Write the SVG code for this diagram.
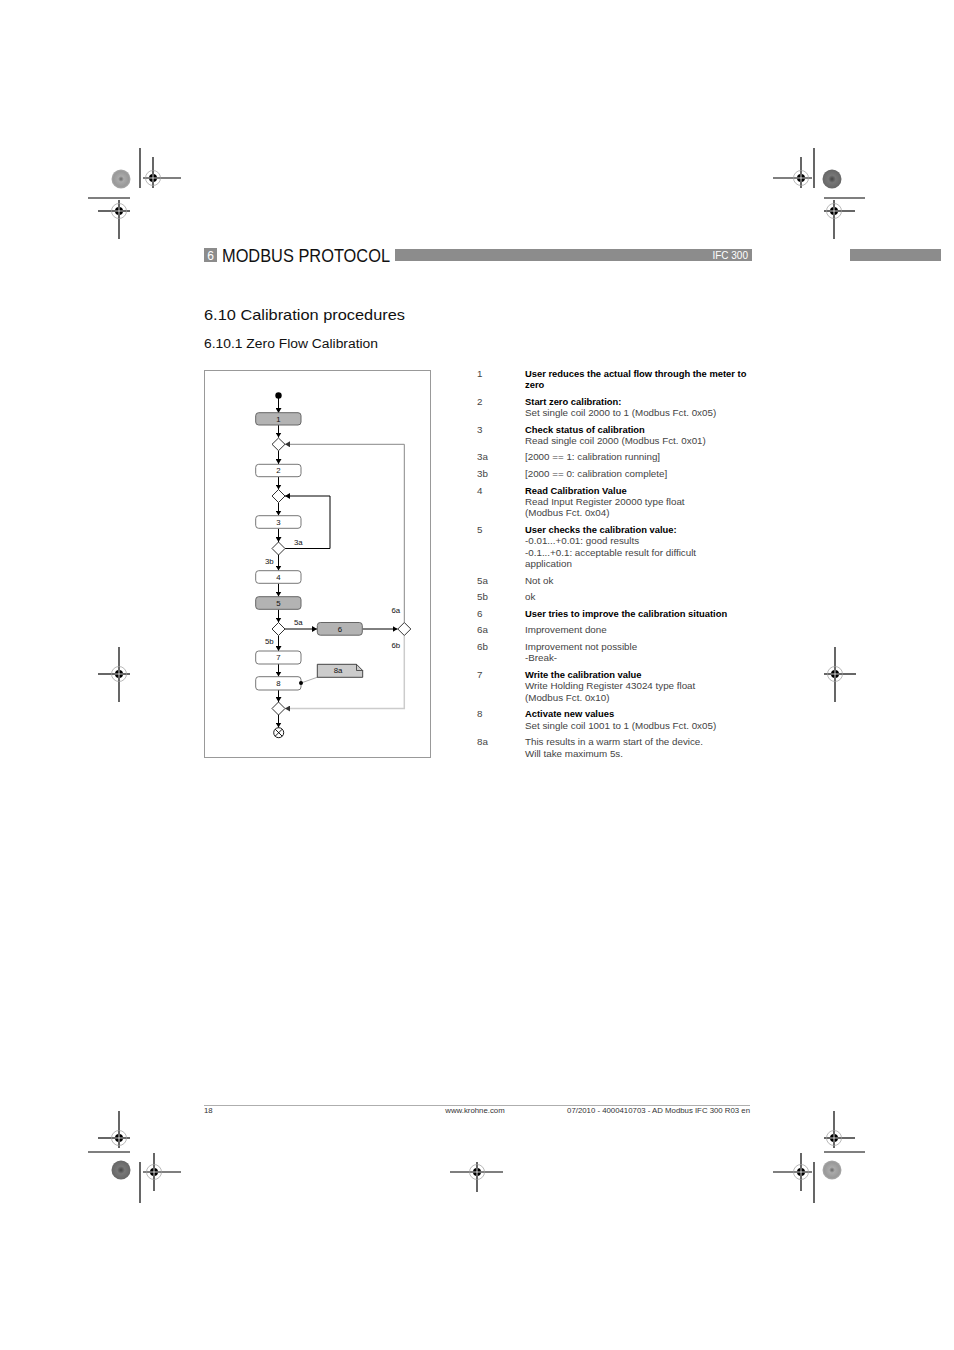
<svg xmlns="http://www.w3.org/2000/svg" width="954" height="1350" viewBox="0 0 954 1350">
<style>
.rl{stroke:#000;stroke-width:1.2;fill:none}
.bx{fill:#fff;stroke:#777;stroke-width:1}
.bg{fill:#b3b3b3;stroke:#666;stroke-width:1}
.dm{fill:#fff;stroke:#333;stroke-width:1}
.lb{font-family:"Liberation Sans",Arial,sans-serif;font-size:7.8px;fill:#111}
.lc{font-family:"Liberation Sans",Arial,sans-serif;font-size:7.8px;fill:#111;text-anchor:middle}
.cn{stroke:#000;stroke-width:1;fill:none}
.tx{font-family:"Liberation Sans",Arial,sans-serif;font-size:9.8px;fill:#444}
.tb{font-family:"Liberation Sans",Arial,sans-serif;font-size:9.4px;fill:#000;font-weight:bold}
.ft{font-family:"Liberation Sans",Arial,sans-serif;font-size:7.8px;fill:#333}
</style>
<defs>
<marker id="ah" markerWidth="6" markerHeight="6" refX="5" refY="3" orient="auto" markerUnits="userSpaceOnUse">
<path d="M0,0 L5,3 L0,6 Z" fill="#000"/>
</marker>
<marker id="ahg" markerWidth="6" markerHeight="6" refX="5" refY="3" orient="auto" markerUnits="userSpaceOnUse">
<path d="M0,0 L5,3 L0,6 Z" fill="#333"/>
</marker>
<g id="tgt">
<circle r="7.5" fill="none" stroke="#999" stroke-width="0.7"/>
<circle r="4" fill="#000"/>
<path d="M-4 0H4M0 -4V4" stroke="#fff" stroke-width="0.8"/>
</g>
<radialGradient id="dl" cx="0.5" cy="0.5" r="0.5">
<stop offset="0" stop-color="#666"/><stop offset="0.3" stop-color="#aaa"/><stop offset="0.8" stop-color="#999"/><stop offset="1" stop-color="#aaa"/>
</radialGradient>
<radialGradient id="dd" cx="0.5" cy="0.5" r="0.5">
<stop offset="0" stop-color="#444"/><stop offset="0.4" stop-color="#777"/><stop offset="1" stop-color="#666"/>
</radialGradient>
</defs>
<rect width="954" height="1350" fill="#fff"/>

<!-- registration marks -->
<g id="regmarks" stroke="#000" stroke-width="1.2">
<line x1="140" y1="148" x2="140" y2="188"/>
<line x1="143" y1="178" x2="181" y2="178"/><line x1="153" y1="157" x2="153" y2="188"/>
<line x1="88" y1="198" x2="130" y2="198"/>
<line x1="98" y1="211" x2="130" y2="211"/><line x1="119" y1="200" x2="119" y2="239"/>
<line x1="814" y1="148" x2="814" y2="188"/>
<line x1="773" y1="178" x2="812" y2="178"/><line x1="801" y1="157" x2="801" y2="188"/>
<line x1="824" y1="198" x2="865" y2="198"/>
<line x1="824" y1="211" x2="855" y2="211"/><line x1="834" y1="200" x2="834" y2="239"/>
<line x1="98" y1="674" x2="130" y2="674"/><line x1="119" y1="647" x2="119" y2="702"/>
<line x1="824" y1="674" x2="856" y2="674"/><line x1="835" y1="647" x2="835" y2="702"/>
<line x1="98" y1="1138" x2="130" y2="1138"/><line x1="119" y1="1111" x2="119" y2="1148"/>
<line x1="88" y1="1152" x2="130" y2="1152"/>
<line x1="140" y1="1162" x2="140" y2="1203"/>
<line x1="143" y1="1172" x2="181" y2="1172"/><line x1="154" y1="1153" x2="154" y2="1191"/>
<line x1="824" y1="1138" x2="855" y2="1138"/><line x1="834" y1="1111" x2="834" y2="1148"/>
<line x1="824" y1="1152" x2="865" y2="1152"/>
<line x1="814" y1="1162" x2="814" y2="1203"/>
<line x1="773" y1="1172" x2="812" y2="1172"/><line x1="801" y1="1153" x2="801" y2="1191"/>
<line x1="450" y1="1172" x2="503" y2="1172"/><line x1="477" y1="1162" x2="477" y2="1192"/>
</g>
<g id="targets">
<use href="#tgt" x="153" y="178"/><use href="#tgt" x="119" y="211"/>
<use href="#tgt" x="801" y="178"/><use href="#tgt" x="834" y="211"/>
<use href="#tgt" x="119" y="674"/><use href="#tgt" x="835" y="674"/>
<use href="#tgt" x="119" y="1138"/><use href="#tgt" x="154" y="1172"/>
<use href="#tgt" x="834" y="1138"/><use href="#tgt" x="801" y="1172"/>
<use href="#tgt" x="477" y="1172"/>
</g>
<g id="disks">
<circle cx="121" cy="179" r="9.5" fill="url(#dl)"/>
<circle cx="832" cy="179" r="9.5" fill="url(#dd)"/>
<circle cx="121" cy="1170" r="9.5" fill="url(#dd)"/>
<circle cx="832" cy="1170" r="9.5" fill="url(#dl)"/>
</g>

<!-- header -->
<g id="header">
<rect x="204" y="248" width="13" height="14" fill="#8c8c8c"/>
<text x="210.5" y="260" font-family="Liberation Sans,Arial,sans-serif" font-size="12" fill="#fff" text-anchor="middle">6</text>
<text x="222" y="262" font-family="Liberation Sans,Arial,sans-serif" font-size="19" fill="#111" textLength="168" lengthAdjust="spacingAndGlyphs">MODBUS PROTOCOL</text>
<rect x="395" y="249" width="357" height="12" fill="#8c8c8c"/>
<text x="748" y="259" font-family="Liberation Sans,Arial,sans-serif" font-size="10" fill="#fff" text-anchor="end">IFC 300</text>
<rect x="850" y="249" width="91" height="12" fill="#8c8c8c"/>
</g>

<g id="titles">
<text x="204" y="320" font-family="Liberation Sans,Arial,sans-serif" font-size="15" fill="#111" textLength="201" lengthAdjust="spacingAndGlyphs">6.10  Calibration procedures</text>
<text x="204" y="348" font-family="Liberation Sans,Arial,sans-serif" font-size="12.5" fill="#111" textLength="174" lengthAdjust="spacingAndGlyphs">6.10.1  Zero Flow Calibration</text>
</g>

<!-- flowchart frame -->
<rect x="204.5" y="370.5" width="226" height="387" fill="none" stroke="#999" stroke-width="1"/>

<!-- connectors -->
<g id="connectors">
<line class="cn" x1="278.5" y1="396" x2="278.5" y2="413" marker-end="url(#ah)"/>
<line class="cn" x1="278.5" y1="425" x2="278.5" y2="437.5" marker-end="url(#ah)"/>
<line class="cn" x1="278.5" y1="450.5" x2="278.5" y2="464" marker-end="url(#ah)"/>
<line class="cn" x1="278.5" y1="477" x2="278.5" y2="489.5" marker-end="url(#ah)"/>
<line class="cn" x1="278.5" y1="502.5" x2="278.5" y2="515.5" marker-end="url(#ah)"/>
<line class="cn" x1="278.5" y1="528.5" x2="278.5" y2="542" marker-end="url(#ah)"/>
<line class="cn" x1="278.5" y1="555" x2="278.5" y2="570.5" marker-end="url(#ah)"/>
<line class="cn" x1="278.5" y1="583.5" x2="278.5" y2="596.5" marker-end="url(#ah)"/>
<line class="cn" x1="278.5" y1="609.5" x2="278.5" y2="622.5" marker-end="url(#ah)"/>
<line class="cn" x1="278.5" y1="635.5" x2="278.5" y2="651" marker-end="url(#ah)"/>
<line class="cn" x1="278.5" y1="664" x2="278.5" y2="676.5" marker-end="url(#ah)"/>
<line class="cn" x1="278.5" y1="690" x2="278.5" y2="702" marker-end="url(#ah)"/>
<line class="cn" x1="278.5" y1="715" x2="278.5" y2="727.5" marker-end="url(#ah)"/>
<polyline class="cn" points="285,548.5 330,548.5 330,496 285,496" marker-end="url(#ah)"/>
<line class="cn" x1="285" y1="629" x2="317" y2="629" marker-end="url(#ah)"/>
<line class="cn" x1="362.5" y1="629" x2="397.5" y2="629" marker-end="url(#ah)"/>
<polyline points="404.3,622.5 404.3,444.3 285,444.3" fill="none" stroke="#888" stroke-width="1" marker-end="url(#ahg)"/>
<polyline points="404.3,635.5 404.3,708.5 285,708.5" fill="none" stroke="#ccc" stroke-width="1.5" marker-end="url(#ahg)"/>
<line x1="301" y1="683" x2="318" y2="677" stroke="#888" stroke-width="0.7"/>
</g>

<!-- nodes -->
<g id="start"><circle cx="278.5" cy="395.5" r="3.2" fill="#000"/></g>
<g id="n1"><rect class="bg" x="255.7" y="412.7" width="45.3" height="12.3" rx="3"/><text class="lc" x="278.5" y="421.6">1</text></g>
<g id="d1"><path class="dm" d="M278.5 438 L285 444.3 L278.5 450.7 L272 444.3 Z"/></g>
<g id="n2"><rect class="bx" x="255.7" y="464.3" width="45.3" height="12.4" rx="3"/><text class="lc" x="278.5" y="473.3">2</text></g>
<g id="d2"><path class="dm" d="M278.5 489.5 L285 496 L278.5 502.5 L272 496 Z"/></g>
<g id="n3"><rect class="bx" x="255.7" y="515.7" width="45.3" height="12.6" rx="3"/><text class="lc" x="278.5" y="524.8">3</text></g>
<g id="d3"><path class="dm" d="M278.5 542 L285 548.5 L278.5 555 L272 548.5 Z"/></g>
<g id="n4"><rect class="bx" x="255.7" y="570.7" width="45.3" height="12.6" rx="3"/><text class="lc" x="278.5" y="579.8">4</text></g>
<g id="n5"><rect class="bg" x="255.7" y="596.7" width="45.3" height="12.6" rx="3"/><text class="lc" x="278.5" y="605.8">5</text></g>
<g id="d5"><path class="dm" d="M278.5 622.5 L285 629 L278.5 635.5 L272 629 Z"/></g>
<g id="n6"><rect class="bg" x="317.3" y="622.5" width="45" height="12.7" rx="3"/><text class="lc" x="339.8" y="631.7">6</text></g>
<g id="d6"><path class="dm" d="M404.3 622.5 L410.8 629 L404.3 635.5 L397.8 629 Z"/></g>
<g id="n7"><rect class="bx" x="255.7" y="651" width="45.3" height="13" rx="3"/><text class="lc" x="278.5" y="660.3">7</text></g>
<g id="n8"><rect class="bx" x="255.7" y="676.7" width="45.3" height="13.3" rx="3"/><text class="lc" x="278.5" y="686.1">8</text><circle cx="301" cy="683" r="2" fill="#000"/></g>
<g id="note8a"><path d="M317.3 664.3 H356.5 L362.7 670.5 V677.3 H317.3 Z" fill="#ccc" stroke="#333" stroke-width="0.9"/><path d="M356.5 664.3 V670.5 H362.7" fill="none" stroke="#333" stroke-width="0.8"/><text class="lc" x="338" y="673.2">8a</text></g>
<g id="d7"><path class="dm" d="M278.5 702 L285 708.5 L278.5 715 L272 708.5 Z"/></g>
<g id="end"><circle cx="278.7" cy="732.7" r="5" fill="#fff" stroke="#000" stroke-width="0.9"/><path d="M275.2 729.2 L282.2 736.2 M282.2 729.2 L275.2 736.2" stroke="#000" stroke-width="0.9"/></g>

<g id="flowlabels">
<text class="lb" x="294" y="545">3a</text>
<text class="lb" x="265" y="564">3b</text>
<text class="lb" x="294" y="625">5a</text>
<text class="lb" x="265" y="644">5b</text>
<text class="lb" x="391.5" y="612.5">6a</text>
<text class="lb" x="391.5" y="648">6b</text>
</g>

<!-- description list -->
<g id="legend">
<text class="tx" x="477" y="377">1</text>
<text class="tb" x="525" y="377">User reduces the actual flow through the meter to</text>
<text class="tb" x="525" y="388">zero</text>
<text class="tx" x="477" y="405">2</text>
<text class="tb" x="525" y="405">Start zero calibration:</text>
<text class="tx" x="525" y="416">Set single coil 2000 to 1 (Modbus Fct. 0x05)</text>
<text class="tx" x="477" y="433">3</text>
<text class="tb" x="525" y="433">Check status of calibration</text>
<text class="tx" x="525" y="444">Read single coil 2000 (Modbus Fct. 0x01)</text>
<text class="tx" x="477" y="460">3a</text>
<text class="tx" x="525" y="460">[2000 == 1: calibration running]</text>
<text class="tx" x="477" y="477">3b</text>
<text class="tx" x="525" y="477">[2000 == 0: calibration complete]</text>
<text class="tx" x="477" y="494">4</text>
<text class="tb" x="525" y="494">Read Calibration Value</text>
<text class="tx" x="525" y="505">Read Input Register 20000 type float</text>
<text class="tx" x="525" y="516">(Modbus Fct. 0x04)</text>
<text class="tx" x="477" y="533">5</text>
<text class="tb" x="525" y="533">User checks the calibration value:</text>
<text class="tx" x="525" y="544">-0.01...+0.01: good results</text>
<text class="tx" x="525" y="556">-0.1...+0.1: acceptable result for difficult</text>
<text class="tx" x="525" y="567">application</text>
<text class="tx" x="477" y="584">5a</text>
<text class="tx" x="525" y="584">Not ok</text>
<text class="tx" x="477" y="600">5b</text>
<text class="tx" x="525" y="600">ok</text>
<text class="tx" x="477" y="617">6</text>
<text class="tb" x="525" y="617">User tries to improve the calibration situation</text>
<text class="tx" x="477" y="633">6a</text>
<text class="tx" x="525" y="633">Improvement done</text>
<text class="tx" x="477" y="650">6b</text>
<text class="tx" x="525" y="650">Improvement not possible</text>
<text class="tx" x="525" y="661">-Break-</text>
<text class="tx" x="477" y="678">7</text>
<text class="tb" x="525" y="678">Write the calibration value</text>
<text class="tx" x="525" y="689">Write Holding Register 43024 type float</text>
<text class="tx" x="525" y="701">(Modbus Fct. 0x10)</text>
<text class="tx" x="477" y="717">8</text>
<text class="tb" x="525" y="717">Activate new values</text>
<text class="tx" x="525" y="729">Set single coil 1001 to 1 (Modbus Fct. 0x05)</text>
<text class="tx" x="477" y="745">8a</text>
<text class="tx" x="525" y="745">This results in a warm start of the device.</text>
<text class="tx" x="525" y="757">Will take maximum 5s.</text>
</g>

<!-- footer -->
<g id="footer">
<line x1="204" y1="1105.5" x2="750" y2="1105.5" stroke="#999" stroke-width="0.8"/>
<text class="ft" x="204" y="1113">18</text>
<text class="ft" x="475" y="1113" text-anchor="middle">www.krohne.com</text>
<text class="ft" x="750" y="1113" text-anchor="end">07/2010 - 4000410703 - AD Modbus IFC 300 R03 en</text>
</g>
</svg>
